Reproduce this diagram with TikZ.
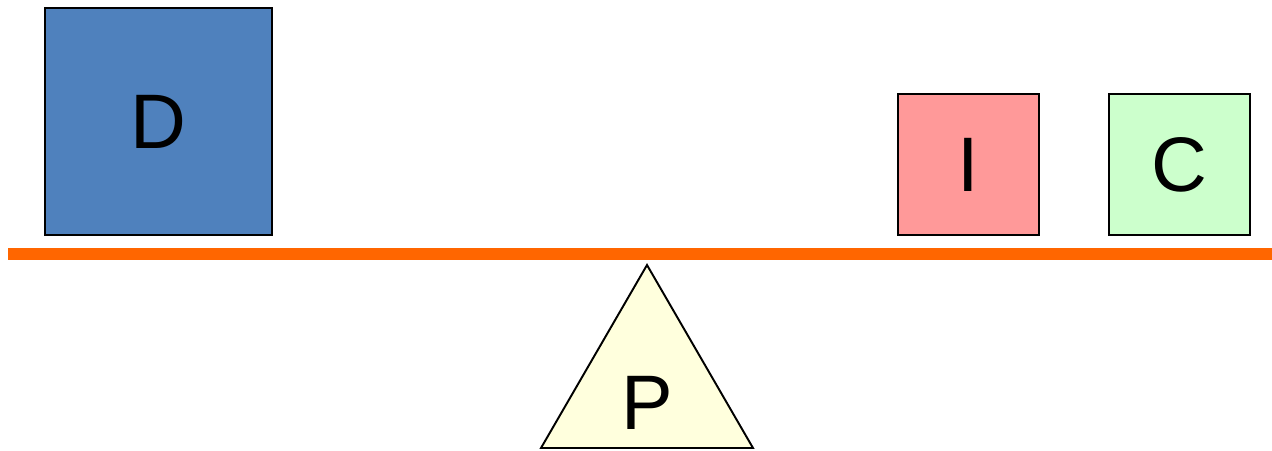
\documentclass[tikz,border=0pt]{standalone}
\usepackage{fontspec}
\setmainfont{Liberation Sans}
\usetikzlibrary{positioning}
\definecolor{weightblue}{HTML}{4F81BD}
\definecolor{weightred}{HTML}{FF9999}
\definecolor{weightgreen}{HTML}{CCFFCC}
\definecolor{beamorange}{HTML}{FF6600}
\definecolor{pivotyellow}{HTML}{FFFFDD}
\begin{document}
\begin{tikzpicture}[
 weight/.style={draw=black,line width=1.1pt,inner sep=0pt,font=\fontsize{44}{48}\selectfont},
 big/.style={weight,minimum size=4.54cm},
 small/.style={weight,minimum size=2.82cm},
 lbl/.style={inner sep=0pt,font=\fontsize{44}{48}\selectfont}]
\useasboundingbox (0,0) rectangle (25.44,9);
% beam
\coordinate (bl) at (0.16,3.92);
\coordinate (br) at (25.44,3.92);
\draw[beamorange,line width=0.24cm] (bl)--(br);
% weights
\node[big,fill=weightblue] (d) at (3.17,6.57) {D};
\node[small,fill=weightred] (i) at (19.37,5.71) {I};
\node[small,fill=weightgreen] (c) at (23.59,5.71) {C};
% pivot
\coordinate (top) at (12.94,3.70);
\coordinate (left) at (10.82,0.04);
\coordinate (right) at (15.06,0.04);
\filldraw[fill=pivotyellow,draw=black,line width=1.1pt,line join=miter] (top)--(right)--(left)--cycle;
\node[lbl] (p) at (12.94,0.94) {P};
\end{tikzpicture}
\end{document}
